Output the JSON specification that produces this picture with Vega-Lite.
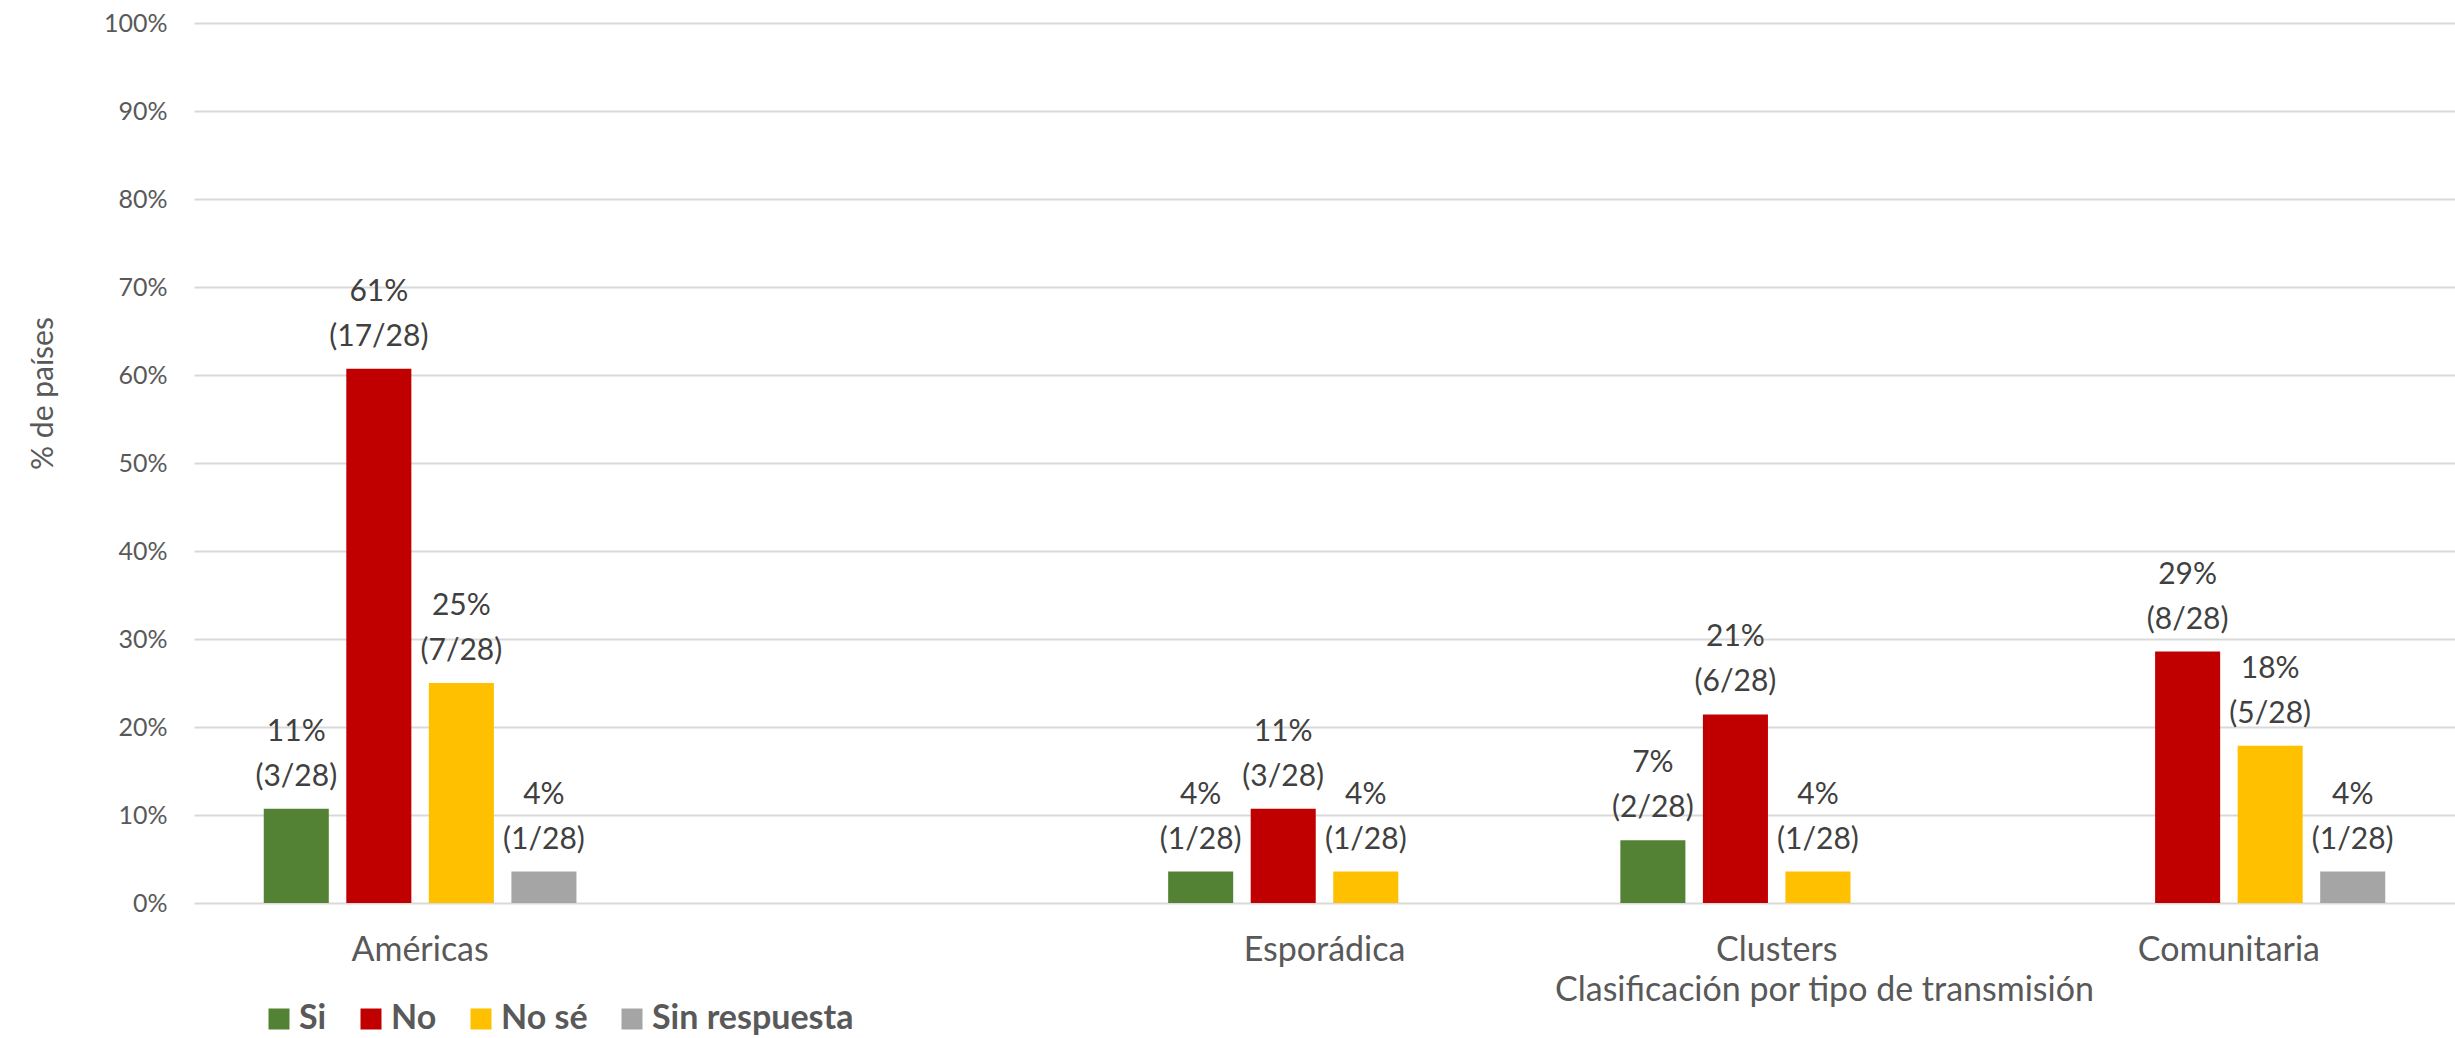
{
  "$schema": "https://vega.github.io/schema/vega-lite/v6.json",
  "width": 2261,
  "height": 880,
  "autosize": {"type": "none"},
  "padding": {"left": 194, "top": 23, "right": 0, "bottom": 135},
  "background": "white",
  "config": {"view": {"stroke": null}, "font": "Lato"},
  "data": {
    "values": [
      {"region": "Américas", "resp": "Si", "value": 0.1071, "pct": "11%", "frac": "(3/28)"},
      {"region": "Américas", "resp": "No", "value": 0.6071, "pct": "61%", "frac": "(17/28)"},
      {"region": "Américas", "resp": "No sé", "value": 0.25, "pct": "25%", "frac": "(7/28)"},
      {"region": "Américas", "resp": "Sin respuesta", "value": 0.0357, "pct": "4%", "frac": "(1/28)"},
      {"region": "Esporádica", "resp": "Si", "value": 0.0357, "pct": "4%", "frac": "(1/28)"},
      {"region": "Esporádica", "resp": "No", "value": 0.1071, "pct": "11%", "frac": "(3/28)"},
      {"region": "Esporádica", "resp": "No sé", "value": 0.0357, "pct": "4%", "frac": "(1/28)"},
      {"region": "Clusters", "resp": "Si", "value": 0.0714, "pct": "7%", "frac": "(2/28)"},
      {"region": "Clusters", "resp": "No", "value": 0.2143, "pct": "21%", "frac": "(6/28)"},
      {"region": "Clusters", "resp": "No sé", "value": 0.0357, "pct": "4%", "frac": "(1/28)"},
      {"region": "Comunitaria", "resp": "No", "value": 0.2857, "pct": "29%", "frac": "(8/28)"},
      {"region": "Comunitaria", "resp": "No sé", "value": 0.1786, "pct": "18%", "frac": "(5/28)"},
      {"region": "Comunitaria", "resp": "Sin respuesta", "value": 0.0357, "pct": "4%", "frac": "(1/28)"}
    ]
  },
  "encoding": {
    "x": {
      "field": "region",
      "type": "nominal",
      "sort": null,
      "scale": {"domain": ["Américas", " ", "Esporádica", "Clusters", "Comunitaria"], "paddingInner": 0, "paddingOuter": 0},
      "axis": {
        "title": "Clasificación por tipo de transmisión",
        "titleFont": "Lato",
        "titleFontSize": 34,
        "titleFontWeight": "normal",
        "titleColor": "#595959",
        "titleX": 1630,
        "titleY": 87,
        "titleAlign": "center",
        "titleBaseline": "middle",
        "labelFontSize": 34,
        "labelColor": "#595959",
        "labelPadding": 47,
        "labelBaseline": "middle",
        "labelAngle": 0,
        "labelLimit": 400,
        "ticks": false,
        "tickSize": 0,
        "domain": false,
        "grid": false
      }
    },
    "xOffset": {
      "field": "resp",
      "type": "nominal",
      "sort": null,
      "scale": {"domain": ["Si", "No", "No sé", "Sin respuesta"], "paddingInner": 0.212, "paddingOuter": 0.845}
    },
    "y": {
      "field": "value",
      "type": "quantitative",
      "scale": {"domain": [0, 1]},
      "axis": {
        "values": [0, 0.1, 0.2, 0.3, 0.4, 0.5, 0.6, 0.7, 0.8, 0.9, 1],
        "format": ".0%",
        "labelFontSize": 25,
        "labelColor": "#595959",
        "labelPadding": 27,
        "ticks": false,
        "tickSize": 0,
        "domain": false,
        "grid": true,
        "gridColor": "#D9D9D9",
        "gridWidth": 2,
        "title": "% de países",
        "titleFontSize": 30,
        "titleFontWeight": "normal",
        "titleColor": "#595959",
        "titleAngle": 270,
        "titleX": -151,
        "titleY": 370,
        "titleAlign": "center",
        "titleBaseline": "middle"
      }
    }
  },
  "layer": [
    {
      "mark": {"type": "bar"},
      "encoding": {
        "color": {
          "field": "resp",
          "type": "nominal",
          "scale": {"domain": ["Si", "No", "No sé", "Sin respuesta"], "range": ["#548235", "#C00000", "#FFC000", "#A5A5A5"]},
          "legend": {
            "title": null,
            "orient": "none",
            "legendX": 68,
            "legendY": 979,
            "direction": "horizontal",
            "symbolType": "square",
            "symbolSize": 441,
            "symbolStrokeWidth": 0,
            "labelFontSize": 34,
            "labelFontWeight": "bold",
            "labelColor": "#595959",
            "labelOffset": 3,
            "labelLimit": 400,
            "columnPadding": 27,
            "padding": 0
          }
        }
      }
    },
    {
      "mark": {"type": "text", "baseline": "alphabetic", "align": "center", "dy": -23, "fontSize": 30, "color": "#404040", "font": "Lato"},
      "encoding": {"text": {"field": "frac"}}
    },
    {
      "mark": {"type": "text", "baseline": "alphabetic", "align": "center", "dy": -68, "fontSize": 30, "color": "#404040", "font": "Lato"},
      "encoding": {"text": {"field": "pct"}}
    }
  ]
}
